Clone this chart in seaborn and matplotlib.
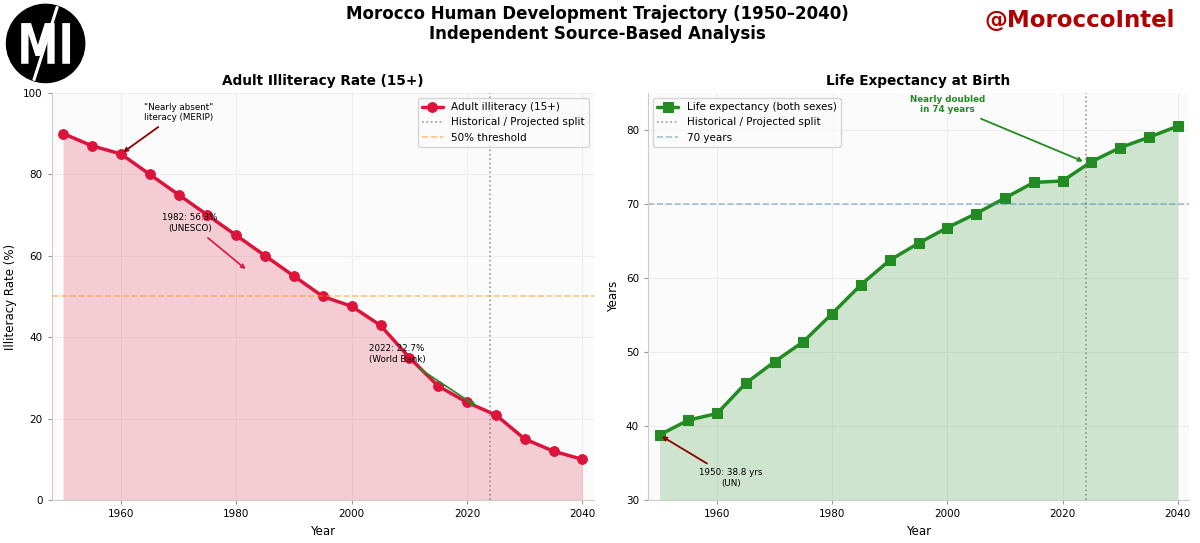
import numpy as np
import pandas as pd
import matplotlib
matplotlib.use("Agg")
import matplotlib.pyplot as plt
from matplotlib.patches import Circle, PathPatch
from matplotlib.textpath import TextPath
from matplotlib.font_manager import FontProperties
from matplotlib.transforms import Affine2D
import seaborn as sns

# Data
years = [1950, 1955, 1960, 1965, 1970, 1975, 1980, 1985, 1990, 1995,
         2000, 2005, 2010, 2015, 2020, 2025, 2030, 2035, 2040]
illiteracy = [90, 87, 85, 80, 75, 70, 65, 60, 55, 50,
              47.6, 42.9, 35, 28, 24, 20.9, 15, 12, 10]
life_exp = [38.8, 40.8, 41.7, 45.8, 48.7, 51.4, 55.2, 59.1, 62.4, 64.7,
            66.8, 68.7, 70.8, 72.9, 73.1, 75.7, 77.6, 79.0, 80.5]
split_year = 2024

ill_df = pd.DataFrame({"Year": years, "Rate": illiteracy})
life_df = pd.DataFrame({"Year": years, "Years": life_exp})

sns.set_style("whitegrid", {
    "axes.facecolor": "#fbfbfb",
    "axes.edgecolor": "#cccccc",
    "grid.color": "#eeeeee",
    "xtick.bottom": True,
    "ytick.left": True,
    "text.color": "black",
    "axes.labelcolor": "black",
    "xtick.color": "black",
    "ytick.color": "black",
})
plt.rcParams["font.family"] = ["DejaVu Sans"]

fig = plt.figure(figsize=(12, 5.43), dpi=100)
ax1 = fig.add_axes([0.043, 0.079, 0.452, 0.75])
ax2 = fig.add_axes([0.54, 0.079, 0.451, 0.75])

# ---- Left: illiteracy
crimson = "#DC143C"
ax1.fill_between(ill_df["Year"], ill_df["Rate"], color=crimson, alpha=0.2, lw=0)
sns.lineplot(data=ill_df, x="Year", y="Rate", ax=ax1, color=crimson, lw=2.5,
             marker="o", markersize=7, markeredgecolor=crimson,
             label="Adult illiteracy (15+)")
ax1.axvline(split_year, color="gray", ls=":", lw=1.2, alpha=0.8,
            label="Historical / Projected split")
ax1.axhline(50, color="darkorange", ls="--", lw=1.2, alpha=0.5, label="50% threshold")
ax1.set_xlim(1948, 2042)
ax1.set_ylim(0, 100)
ax1.set_title("Adult Illiteracy Rate (15+)", fontsize=9.8, fontweight="bold", pad=5.5)
ax1.set_xlabel("Year", fontsize=8.5)
ax1.set_ylabel("Illiteracy Rate (%)", fontsize=8.5)
ax1.legend(loc="upper right", fontsize=7.5, frameon=True)

ax1.annotate('"Nearly absent"\nliteracy (MERIP)', xy=(1960, 85), xytext=(1970, 95.2),
             ha="center", va="center", fontsize=6.3,
             arrowprops=dict(arrowstyle="->", color="#8B0000", lw=1.3))
ax1.annotate("1982: 56.3%\n(UNESCO)", xy=(1982, 56.3), xytext=(1972, 68),
             ha="center", va="center", fontsize=6.3,
             arrowprops=dict(arrowstyle="->", color=crimson, lw=1.2))
ax1.annotate("2022: 22.7%\n(World Bank)", xy=(2022, 22.7), xytext=(2003, 35.9),
             ha="left", va="center", fontsize=6.3,
             arrowprops=dict(arrowstyle="->", color="forestgreen", lw=1.2))

# ---- Right: life expectancy
green = "forestgreen"
ax2.fill_between(life_df["Year"], 30, life_df["Years"], color=green, alpha=0.2, lw=0)
sns.lineplot(data=life_df, x="Year", y="Years", ax=ax2, color=green, lw=2.5,
             marker="s", markersize=7, markeredgecolor=green,
             label="Life expectancy (both sexes)")
ax2.axvline(split_year, color="gray", ls=":", lw=1.2, alpha=0.8,
            label="Historical / Projected split")
ax2.axhline(70, color="steelblue", ls="--", lw=1.2, alpha=0.5, label="70 years")
ax2.set_xlim(1948, 2042)
ax2.set_ylim(30, 85)
ax2.set_title("Life Expectancy at Birth", fontsize=9.8, fontweight="bold", pad=5.5)
ax2.set_xlabel("Year", fontsize=8.5)
ax2.set_ylabel("Years", fontsize=8.5)
ax2.legend(loc="upper left", fontsize=7.5, frameon=True)

ax2.annotate("Nearly doubled\nin 74 years", xy=(2024, 75.6), xytext=(2000, 83.4),
             ha="center", va="center", fontsize=6.3, fontweight="bold", color=green,
             arrowprops=dict(arrowstyle="->", color=green, lw=1.3))
ax2.annotate("1950: 38.8 yrs\n(UN)", xy=(1950, 38.8), xytext=(1962.4, 33.0),
             ha="center", va="center", fontsize=6.3,
             arrowprops=dict(arrowstyle="->", color="#8B0000", lw=1.3))

for ax in (ax1, ax2):
    sns.despine(ax=ax)
    ax.tick_params(labelsize=7.5, length=3, color="#999999")
    ax.grid(True, color="#eeeeee", lw=0.8)

# ---- Header
fig.suptitle("Morocco Human Development Trajectory (1950\u20132040)\nIndependent Source-Based Analysis",
             x=0.498, y=0.99, va="top", fontsize=12, fontweight="bold", linespacing=1.1)
fig.text(0.9, 0.962, "@MoroccoIntel", ha="center", va="center", fontsize=16.5,
         fontweight="bold", color="#B00000")

# logo: black disc, condensed white "MI", white slash cut through the disc
lax = fig.add_axes([0.004, 0.845, 0.068, 0.15])
lax.set_xlim(0, 1)
lax.set_ylim(0, 1)
lax.set_aspect("equal")
lax.axis("off")
disc = Circle((0.5, 0.5), 0.48, color="black")
lax.add_patch(disc)
tp = TextPath((0, 0), "MI", size=1, prop=FontProperties(family="DejaVu Sans", weight="bold"))
ext = tp.get_extents()
sx, sy = 0.6 / ext.width, 0.5 / ext.height
tr = Affine2D().translate(-ext.x0, -ext.y0).scale(sx, sy).translate(0.2, 0.25)
lax.add_patch(PathPatch(tr.transform_path(tp), color="white", lw=0))
slash, = lax.plot([0.66, 0.34], [1.0, 0.0], color="white", lw=2.2)
slash.set_clip_path(disc)

fig.savefig("out.png", dpi=100)
